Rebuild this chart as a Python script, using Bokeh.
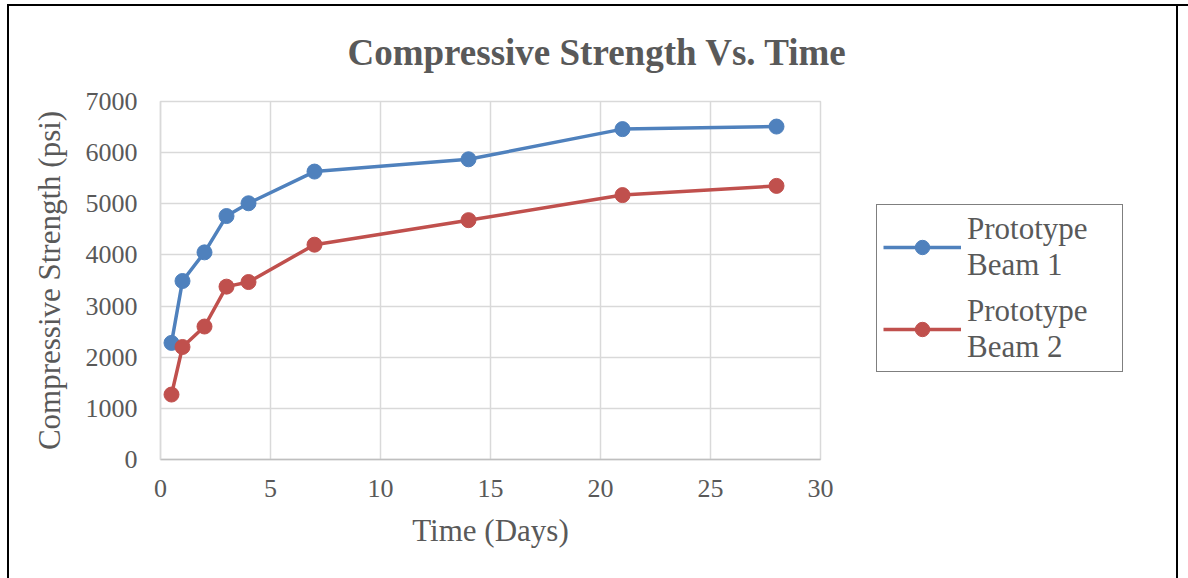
from bokeh.plotting import figure
from bokeh.models import (Range1d, Legend, LegendItem, FixedTicker, ColumnDataSource)
from bokeh.embed import file_html
from bokeh.resources import INLINE

# ---- data ----
days = [0.5, 1, 2, 3, 4, 7, 14, 21, 28]
beam1 = [2280, 3490, 4050, 4760, 5010, 5630, 5870, 6460, 6510]
beam2 = [1270, 2200, 2600, 3380, 3470, 4200, 4680, 5170, 5350]
x_ticks = [0, 5, 10, 15, 20, 25, 30]
y_ticks = [0, 1000, 2000, 3000, 4000, 5000, 6000, 7000]
series_names = ["Prototype\nBeam 1", "Prototype\nBeam 2"]
title_text = "Compressive Strength Vs. Time"
x_title = "Time (Days)"
y_title = "Compressive Strength (psi)"

FONT = "Liberation Serif"
TXT = "#595959"
GRID = "#d9d9d9"
BLUE = "#4f81bd"
RED = "#c0504d"

# outer chart border drawn as left/top anchored inset shadows on the figure's element
frame_css = ("inset 0 4px 0 0 white, inset 7px 0 0 0 white, "
             "inset 9px 0 0 0 black, inset 0 6px 0 0 black, "
             "inset 1176px 0 0 0 white, inset 1178px 0 0 0 black")

p = figure(width=1188, height=578, frame_width=660, frame_height=358,
           output_backend="svg", toolbar_location=None,
           x_range=Range1d(0, 30), y_range=Range1d(0, 7000),
           min_border_left=160, min_border_right=368,
           min_border_top=101, min_border_bottom=119,
           styles={"box-shadow": frame_css, "background-color": "white"})
p.background_fill_color = "white"
p.border_fill_alpha = 0
p.outline_line_color = GRID
p.outline_line_width = 1.5

p.title.text = title_text
p.title.align = "left"
p.title.offset = 187
p.title.text_font = FONT
p.title.text_font_size = "37px"
p.title.text_font_style = "bold"
p.title.text_color = TXT
p.title.standoff = 57

for ax in (p.xaxis[0], p.yaxis[0]):
    ax.major_label_text_font = FONT
    ax.major_label_text_font_size = "26px"
    ax.major_label_text_color = TXT
    ax.axis_label_text_font = FONT
    ax.axis_label_text_font_size = "31px"
    ax.axis_label_text_font_style = "normal"
    ax.axis_label_text_color = TXT
    ax.major_tick_line_color = None
    ax.minor_tick_line_color = None
    ax.major_tick_out = 0
    ax.major_tick_in = 0

p.xaxis.ticker = FixedTicker(ticks=x_ticks)
p.yaxis.ticker = FixedTicker(ticks=y_ticks)
p.xaxis.axis_label = x_title
p.yaxis.axis_label = y_title
p.xaxis.axis_line_color = "#bfbfbf"
p.xaxis.axis_line_width = 1.5
p.yaxis.axis_line_color = GRID
p.yaxis.axis_line_width = 1.5
p.xaxis.major_label_standoff = 20
p.yaxis.major_label_standoff = 23
p.xaxis.axis_label_standoff = 13
p.yaxis.axis_label_standoff = 16

p.xgrid.ticker = FixedTicker(ticks=x_ticks)
p.ygrid.ticker = FixedTicker(ticks=y_ticks)
p.grid.grid_line_color = GRID
p.grid.grid_line_width = 1.5

src = ColumnDataSource(dict(x=days, b1=beam1, b2=beam2))
l1 = p.line("x", "b1", source=src, line_color=BLUE, line_width=3.5)
m1 = p.scatter("x", "b1", source=src, size=15, fill_color=BLUE, line_color=BLUE)
l2 = p.line("x", "b2", source=src, line_color=RED, line_width=3.5)
m2 = p.scatter("x", "b2", source=src, size=15, fill_color=RED, line_color=RED)

legend = Legend(items=[LegendItem(label=series_names[0], renderers=[l1, m1]),
                       LegendItem(label=series_names[1], renderers=[l2, m2])],
                location=(56, 87))
legend.label_text_font = FONT
legend.label_text_font_size = "31px"
legend.label_text_color = TXT
legend.border_line_color = "black"
legend.border_line_width = 1.5
legend.glyph_width = 78
legend.glyph_height = 36
legend.label_standoff = 6
legend.label_width = 149
legend.padding = 6
legend.spacing = 10
legend.margin = 0
legend.background_fill_color = "white"
legend.background_fill_alpha = 1
p.add_layout(legend, "right")

open("out.html", "w").write(file_html(p, INLINE))
